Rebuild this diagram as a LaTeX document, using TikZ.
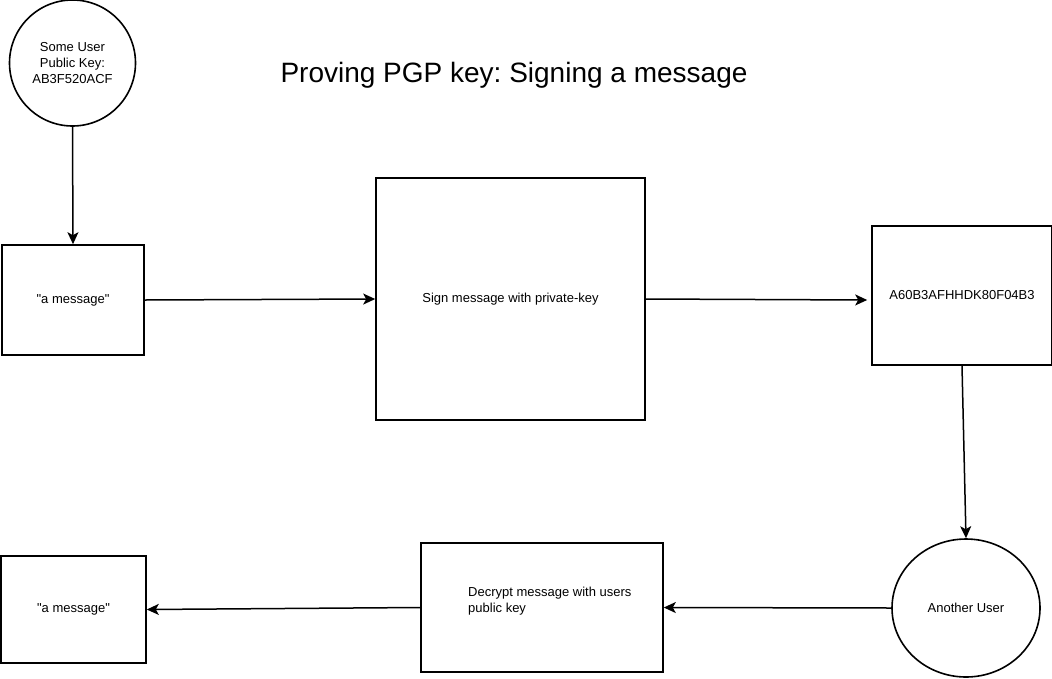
\documentclass[tikz,border=0pt]{standalone}
\usepackage{fontspec}
\setmainfont{Liberation Sans}[Ligatures=TeXOff]
\usetikzlibrary{shapes.geometric,arrows.meta}
\frenchspacing
\begin{document}
\begin{tikzpicture}[x=1pt,y=-1pt,
  lbl/.style={font=\fontsize{13}{16}\selectfont, align=center},
  boxnode/.style={draw, line width=1.6pt, lbl, inner sep=0pt},
  conn/.style={line width=1.5pt, -{Stealth[length=12pt,width=11pt,inset=3pt]}}]
\useasboundingbox (0,0) rectangle (1052,678);
\node[lbl, font=\fontsize{28}{32}\selectfont] (title) at (514,75) {Proving PGP key: Signing a message};
\node[boxnode, circle, minimum size=126pt] (user) at (72.5,63) {Some User\\Public Key:\\AB3F520ACF};
\node[boxnode, minimum width=142pt, minimum height=110pt] (msg1) at (73,300) {"a message"};
\node[boxnode, minimum width=269pt, minimum height=242pt] (sign) at (510.5,299) {Sign message with private-key};
\node[boxnode, minimum width=180pt, minimum height=139pt] (sig) at (962,295.5) {A60B3AFHHDK80F04B3};
\node[boxnode, ellipse, minimum width=148pt, minimum height=138pt] (other) at (966,608) {Another User};
\node[boxnode, minimum width=242pt, minimum height=129pt] (dec) at (542,607.5) {};
\node[lbl, align=left, anchor=west, inner sep=0pt] (dectext) at (468,601) {Decrypt message with users\\public key};
\node[boxnode, minimum width=145pt, minimum height=107pt] (msg2) at (73.5,609.5) {"a message"};
\draw[conn] (user.south) -- (msg1.north);
\draw[conn] (msg1.east) -- (sign.west);
\draw[conn] (sign.east) -- ([xshift=-4pt,yshift=-4.5pt]sig.west);
\draw[conn] (sig.south) -- (other.north);
\draw[conn] (other.west) -- (dec.east);
\draw[conn] (dec.west) -- (msg2.east);
\end{tikzpicture}
\end{document}
